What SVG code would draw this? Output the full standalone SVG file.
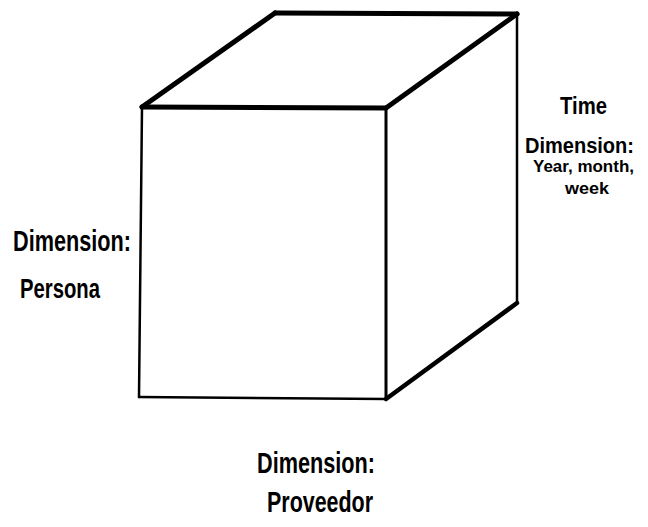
<svg xmlns="http://www.w3.org/2000/svg" width="648" height="527" viewBox="0 0 648 527">
<style>
.e{stroke:#000;fill:none;stroke-linecap:round;stroke-linejoin:round}
.t{font-family:"Liberation Sans",Arial,sans-serif;font-weight:bold;fill:#000}
</style>
<rect width="648" height="527" fill="#fff"/>
<g id="connectors">
<line class="e" x1="142" y1="107" x2="275" y2="13" stroke-width="5"/>
<line class="e" x1="275" y1="13" x2="517" y2="14" stroke-width="5"/>
<line class="e" x1="142" y1="107" x2="386" y2="108" stroke-width="5"/>
<line class="e" x1="386" y1="108" x2="517" y2="14" stroke-width="5"/>
<line class="e" x1="517" y1="14" x2="517" y2="303" stroke-width="2.5"/>
<line class="e" x1="142" y1="107" x2="139" y2="397" stroke-width="2.5"/>
<line class="e" x1="386" y1="108" x2="386" y2="399" stroke-width="3"/>
<line class="e" x1="139" y1="397" x2="386" y2="399" stroke-width="2.5"/>
<line class="e" x1="386" y1="399" x2="517" y2="303" stroke-width="4.5"/>
</g>
<g id="persona">
<text class="t" x="13" y="251" font-size="29" textLength="118" lengthAdjust="spacingAndGlyphs">Dimension:</text>
<text class="t" x="20" y="298" font-size="28" textLength="80" lengthAdjust="spacingAndGlyphs" font-weight="normal">Persona</text>
</g>
<g id="time">
<text class="t" x="560" y="114" font-size="23" textLength="47" lengthAdjust="spacingAndGlyphs">Time</text>
<text class="t" x="525" y="153" font-size="22" textLength="109" lengthAdjust="spacingAndGlyphs">Dimension:</text>
<text class="t" x="533" y="172" font-size="16" textLength="101" lengthAdjust="spacingAndGlyphs">Year, month,</text>
<text class="t" x="565" y="194" font-size="16" textLength="44" lengthAdjust="spacingAndGlyphs">week</text>
</g>
<g id="proveedor">
<text class="t" x="257" y="473" font-size="29" textLength="118" lengthAdjust="spacingAndGlyphs">Dimension:</text>
<text class="t" x="267" y="512" font-size="29" textLength="106" lengthAdjust="spacingAndGlyphs">Proveedor</text>
</g>
</svg>
